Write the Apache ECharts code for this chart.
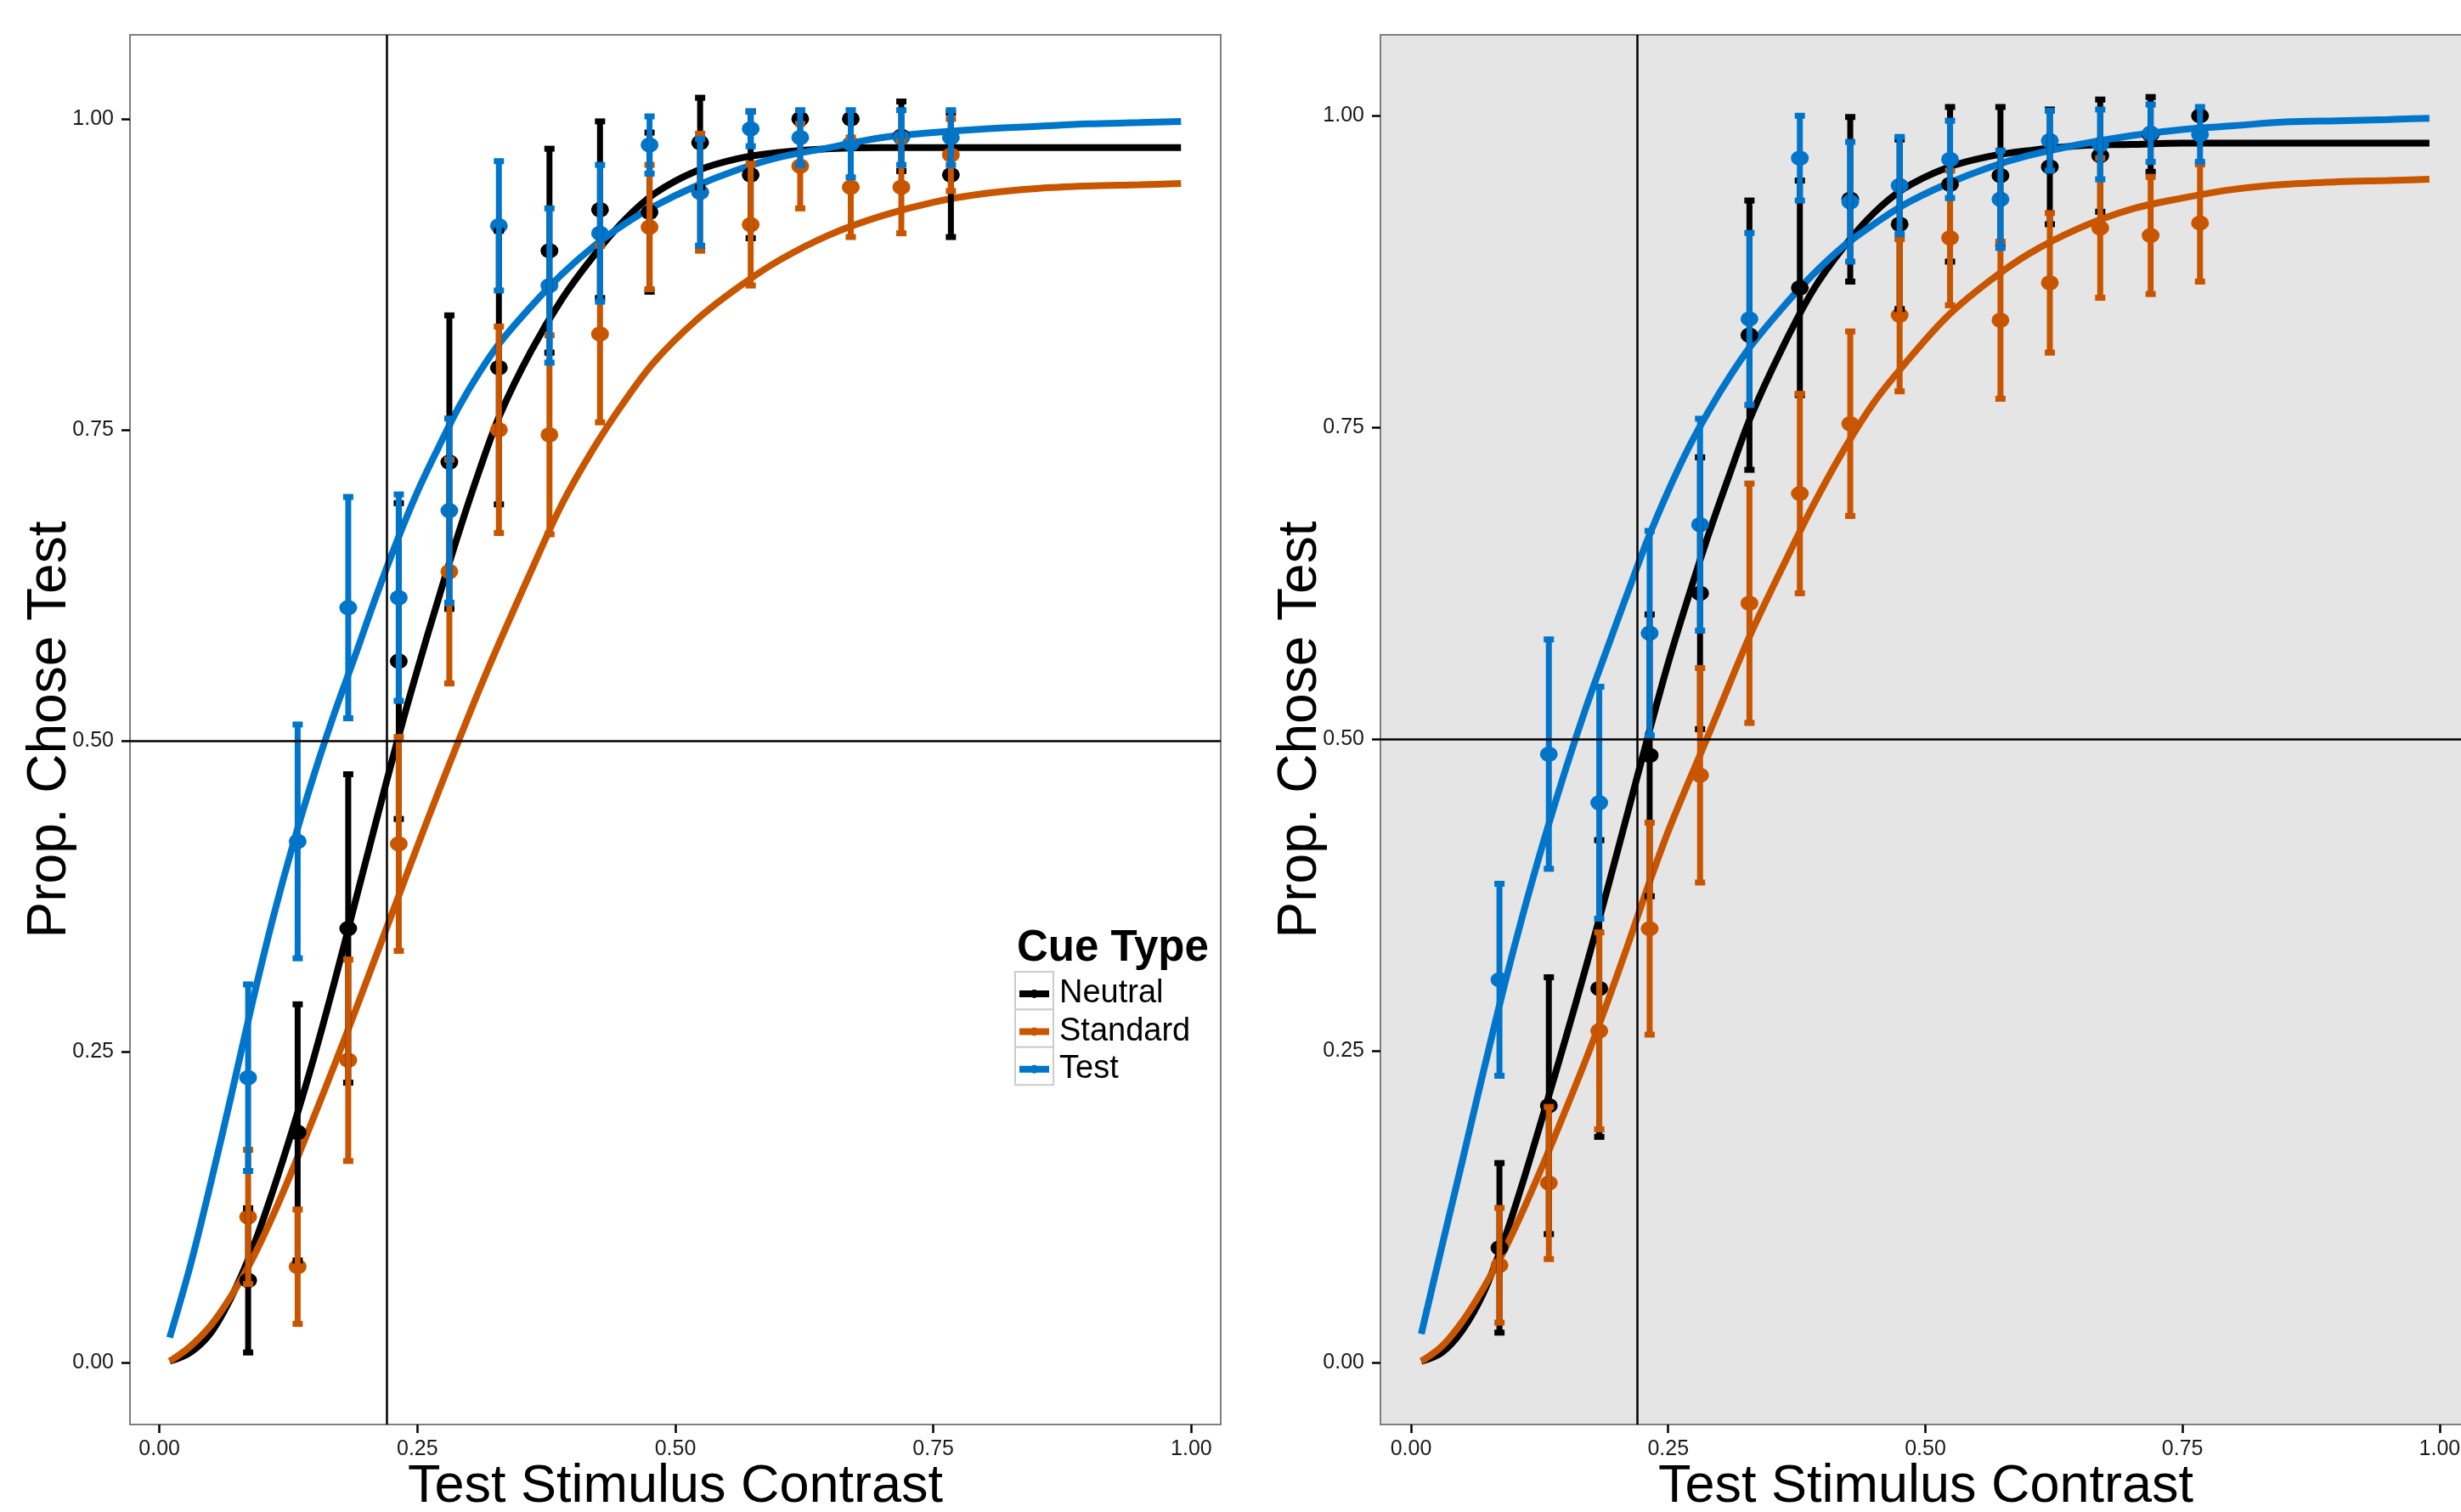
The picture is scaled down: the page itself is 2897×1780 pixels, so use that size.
<!DOCTYPE html>
<html>
<head>
<meta charset="utf-8">
<script src="https://cdn.jsdelivr.net/npm/echarts@6/dist/echarts.min.js"></script>
<style>
  html, body { margin: 0; padding: 0; background: #fff; }
  #main { width: 2897px; height: 1780px; }
</style>
</head>
<body>
<div id="main"></div>
<script>
// stimulus contrast levels (same in both panels)
const contrast = [0.086, 0.134, 0.183, 0.232, 0.281, 0.329, 0.378, 0.427, 0.475, 0.524, 0.573, 0.621, 0.670, 0.719, 0.767]
const cueTypes = ['Neutral', 'Standard', 'Test']
const cueColors = ['#000000', '#C85500', '#0075C9']
const tickValues = [0, 0.25, 0.5, 0.75, 1]

// left panel: proportion chose test + standard error
const leftNeutral = [0.066, 0.185, 0.349, 0.564, 0.724, 0.800, 0.894, 0.927, 0.925, 0.981, 0.955, 1.000, 1.000, 0.986, 0.955]
const leftNeutralSe = [0.058, 0.103, 0.124, 0.127, 0.118, 0.110, 0.082, 0.071, 0.064, 0.036, 0.051, 0, 0, 0.028, 0.050]
const leftStandard = [0.117, 0.077, 0.243, 0.417, 0.636, 0.750, 0.746, 0.827, 0.913, 0.941, 0.915, 0.962, 0.945, 0.945, 0.971]
const leftStandardSe = [0.054, 0.046, 0.081, 0.086, 0.090, 0.083, 0.080, 0.071, 0.050, 0.047, 0.049, 0.034, 0.040, 0.037, 0.029]
const leftTest = [0.229, 0.419, 0.607, 0.615, 0.685, 0.914, 0.866, 0.908, 0.979, 0.941, 0.992, 0.985, 0.980, 0.985, 0.985]
const leftTestSe = [0.075, 0.094, 0.089, 0.083, 0.074, 0.052, 0.062, 0.055, 0.023, 0.043, 0.014, 0.022, 0.027, 0.022, 0.022]

// right panel
const rightNeutral = [0.092, 0.206, 0.300, 0.487, 0.617, 0.824, 0.862, 0.933, 0.913, 0.945, 0.952, 0.959, 0.968, 0.985, 1.000]
const rightNeutralSe = [0.068, 0.103, 0.119, 0.113, 0.109, 0.108, 0.086, 0.066, 0.068, 0.062, 0.055, 0.046, 0.045, 0.030, 0]
const rightStandard = [0.078, 0.144, 0.266, 0.348, 0.471, 0.609, 0.697, 0.753, 0.840, 0.902, 0.836, 0.866, 0.910, 0.904, 0.914]
const rightStandardSe = [0.046, 0.061, 0.079, 0.085, 0.086, 0.096, 0.080, 0.074, 0.061, 0.054, 0.063, 0.056, 0.056, 0.047, 0.047]
const rightTest = [0.307, 0.488, 0.449, 0.585, 0.672, 0.837, 0.966, 0.931, 0.944, 0.965, 0.933, 0.980, 0.977, 0.986, 0.985]
const rightTestSe = [0.077, 0.092, 0.093, 0.082, 0.085, 0.069, 0.034, 0.048, 0.039, 0.031, 0.039, 0.024, 0.028, 0.023, 0.022]

// fitted psychometric curves
const fitX = [0.01, 0.03, 0.05, 0.07, 0.09, 0.11, 0.13, 0.15, 0.17, 0.19, 0.21, 0.23, 0.25, 0.27, 0.29, 0.31, 0.33,
  0.36, 0.39, 0.42, 0.45, 0.48, 0.52, 0.56, 0.60, 0.65, 0.70, 0.75, 0.80, 0.85, 0.90, 0.95, 0.99]
const leftFitNeutral = [0.001, 0.008, 0.024, 0.053, 0.091, 0.138, 0.190, 0.246, 0.307, 0.371, 0.435, 0.498, 0.557, 0.613, 0.667, 0.717, 0.762,
  0.813, 0.855, 0.889, 0.918, 0.940, 0.958, 0.968, 0.973, 0.976, 0.977, 0.977, 0.977, 0.977, 0.977, 0.977, 0.977]
const leftFitStandard = [0.001, 0.013, 0.030, 0.054, 0.083, 0.118, 0.157, 0.198, 0.240, 0.283, 0.327, 0.371, 0.415, 0.458, 0.500, 0.541, 0.580,
  0.636, 0.690, 0.734, 0.772, 0.805, 0.838, 0.864, 0.886, 0.907, 0.922, 0.933, 0.940, 0.944, 0.946, 0.947, 0.948]
const leftFitTest = [0.020, 0.078, 0.145, 0.216, 0.289, 0.357, 0.418, 0.473, 0.523, 0.569, 0.616, 0.660, 0.700, 0.735, 0.768, 0.796, 0.820,
  0.849, 0.875, 0.897, 0.915, 0.930, 0.946, 0.959, 0.969, 0.977, 0.985, 0.989, 0.992, 0.994, 0.996, 0.997, 0.998]
const rightFitNeutral = [0.001, 0.008, 0.026, 0.055, 0.097, 0.148, 0.203, 0.259, 0.317, 0.377, 0.439, 0.501, 0.561, 0.615, 0.666, 0.713, 0.758,
  0.812, 0.859, 0.894, 0.922, 0.942, 0.958, 0.967, 0.972, 0.976, 0.977, 0.978, 0.978, 0.978, 0.978, 0.978, 0.978]
const rightFitStandard = [0.001, 0.013, 0.033, 0.059, 0.089, 0.124, 0.162, 0.202, 0.243, 0.287, 0.333, 0.381, 0.426, 0.466, 0.505, 0.545, 0.584,
  0.636, 0.686, 0.731, 0.770, 0.801, 0.838, 0.866, 0.889, 0.910, 0.925, 0.934, 0.941, 0.945, 0.947, 0.948, 0.949]
const rightFitTest = [0.023, 0.093, 0.162, 0.232, 0.300, 0.363, 0.421, 0.475, 0.525, 0.571, 0.616, 0.660, 0.699, 0.734, 0.764, 0.791, 0.815,
  0.845, 0.872, 0.895, 0.913, 0.929, 0.945, 0.958, 0.968, 0.977, 0.984, 0.989, 0.992, 0.995, 0.996, 0.997, 0.998]

const threshold = 0.22
const chance = 0.5

const panels = [
  { props: [leftNeutral, leftStandard, leftTest], se: [leftNeutralSe, leftStandardSe, leftTestSe],
    fits: [leftFitNeutral, leftFitStandard, leftFitTest] },
  { props: [rightNeutral, rightStandard, rightTest], se: [rightNeutralSe, rightStandardSe, rightTestSe],
    fits: [rightFitNeutral, rightFitStandard, rightFitTest] }
]

const font = 'Liberation Sans, Arial, Helvetica, sans-serif'

function renderErrorBar(params, api) {
  const x = api.value(0)
  const lo = api.coord([x, api.value(1)])
  const hi = api.coord([x, api.value(2)])
  const style = { stroke: api.visual('color'), lineWidth: 7, lineCap: 'butt' }
  const hw = 6
  return {
    type: 'group',
    children: [
      { type: 'line', shape: { x1: lo[0], y1: lo[1], x2: hi[0], y2: hi[1] }, style },
      { type: 'line', shape: { x1: hi[0] - hw, y1: hi[1], x2: hi[0] + hw, y2: hi[1] }, style },
      { type: 'line', shape: { x1: lo[0] - hw, y1: lo[1], x2: lo[0] + hw, y2: lo[1] }, style }
    ]
  }
}

function makeXAxis(gi, min, max) {
  return {
    type: 'value', gridIndex: gi, min, max,
    axisLine: { show: false, onZero: false }, splitLine: { show: false },
    axisTick: { show: true, customValues: tickValues, length: 10, lineStyle: { color: '#000', width: 2.5 } },
    axisLabel: { customValues: tickValues, formatter: v => v.toFixed(2), margin: 17,
      fontSize: 25, color: '#1a1a1a', fontFamily: font },
    name: 'Test Stimulus Contrast', nameLocation: 'middle', nameGap: 42, nameMoveOverlap: false,
    nameTextStyle: { fontSize: 63, color: '#000', fontFamily: font }
  }
}

function makeYAxis(gi, min, max) {
  return {
    type: 'value', gridIndex: gi, min, max,
    axisLine: { show: false, onZero: false }, splitLine: { show: false },
    axisTick: { show: true, customValues: tickValues, length: 10, lineStyle: { color: '#000', width: 2.5 } },
    axisLabel: { customValues: tickValues, formatter: v => v.toFixed(2), margin: 19,
      fontSize: 25, color: '#1a1a1a', fontFamily: font },
    name: 'Prop. Chose Test', nameLocation: 'middle', nameGap: 62, nameMoveOverlap: false,
    nameTextStyle: { fontSize: 64, color: '#000', fontFamily: font }
  }
}

const series = []
panels.forEach((p, gi) => {
  // fitted curves
  cueTypes.forEach((name, k) => {
    series.push({
      name, type: 'line', xAxisIndex: gi, yAxisIndex: gi,
      data: fitX.map((x, i) => [x, p.fits[k][i]]),
      showSymbol: false, smooth: 0.35,
      color: cueColors[k], lineStyle: { width: 8, color: cueColors[k] },
      z: 2, silent: true
    })
  })
  // observed points
  cueTypes.forEach((name, k) => {
    series.push({
      name, type: 'scatter', xAxisIndex: gi, yAxisIndex: gi,
      data: contrast.map((x, i) => [x, p.props[k][i]]),
      symbol: 'circle', symbolSize: [21, 18],
      itemStyle: { color: cueColors[k], opacity: 1 },
      z: 3, silent: true
    })
  })
  // error bars
  cueTypes.forEach((name, k) => {
    series.push({
      name, type: 'custom', xAxisIndex: gi, yAxisIndex: gi,
      data: contrast.map((x, i) => [x, p.props[k][i] - p.se[k][i], p.props[k][i] + p.se[k][i]]),
      renderItem: renderErrorBar,
      itemStyle: { color: cueColors[k] },
      z: 4, silent: true
    })
  })
  // reference lines
  series.push({
    type: 'line', xAxisIndex: gi, yAxisIndex: gi, data: [], silent: true,
    markLine: {
      silent: true, symbol: 'none', label: { show: false }, animation: false,
      lineStyle: { color: '#000', width: 2.5, type: 'solid' },
      data: [{ xAxis: threshold }, { yAxis: chance }]
    },
    z: 6
  })
})

// legend key boxes drawn under the legend icons
const keyTop = 1144, keyH = 44.4
const keyBoxes = cueTypes.map((c, i) => ({
  type: 'rect', z: 1,
  shape: { x: 1195, y: keyTop + i * keyH, width: 45, height: keyH },
  style: { fill: '#fff', stroke: '#cccccc', lineWidth: 2 }
}))

const option = {
  animation: false,
  backgroundColor: '#fff',
  grid: [
    { left: 153, top: 41, width: 1284, height: 1636, show: true, backgroundColor: '#ffffff',
      borderColor: '#7f7f7f', borderWidth: 2, outerBoundsMode: 'none', containLabel: false },
    { left: 1625, top: 41, width: 1284, height: 1636, show: true, backgroundColor: '#e5e5e5',
      borderColor: '#7f7f7f', borderWidth: 2, outerBoundsMode: 'none', containLabel: false }
  ],
  xAxis: [makeXAxis(0, -0.0285, 1.0285), makeXAxis(1, -0.0297, 1.0306)],
  yAxis: [makeYAxis(0, -0.0499, 1.0676), makeYAxis(1, -0.0497, 1.0649)],
  legend: {
    data: cueTypes.map(name => ({
      name,
      icon: 'path://M0,1H35V9H0Z M12.5,5A5,5,0,1,1,22.5,5A5,5,0,1,1,12.5,5Z'
    })),
    orient: 'vertical', left: 1200, top: 1151, padding: 0,
    itemWidth: 35, itemHeight: 10, itemGap: 6.4,
    selectedMode: false,
    textStyle: { fontSize: 38, color: '#000', fontFamily: font, padding: [0, 0, 0, 7] },
    z: 10
  },
  graphic: [
    { type: 'text', left: 1197, top: 1091, z: 10,
      style: { text: 'Cue Type', font: 'bold 51px ' + font, fill: '#000' } },
    ...keyBoxes
  ],
  series
}

const chart = echarts.init(document.getElementById('main'))
chart.setOption(option)
</script>
</body>
</html>
